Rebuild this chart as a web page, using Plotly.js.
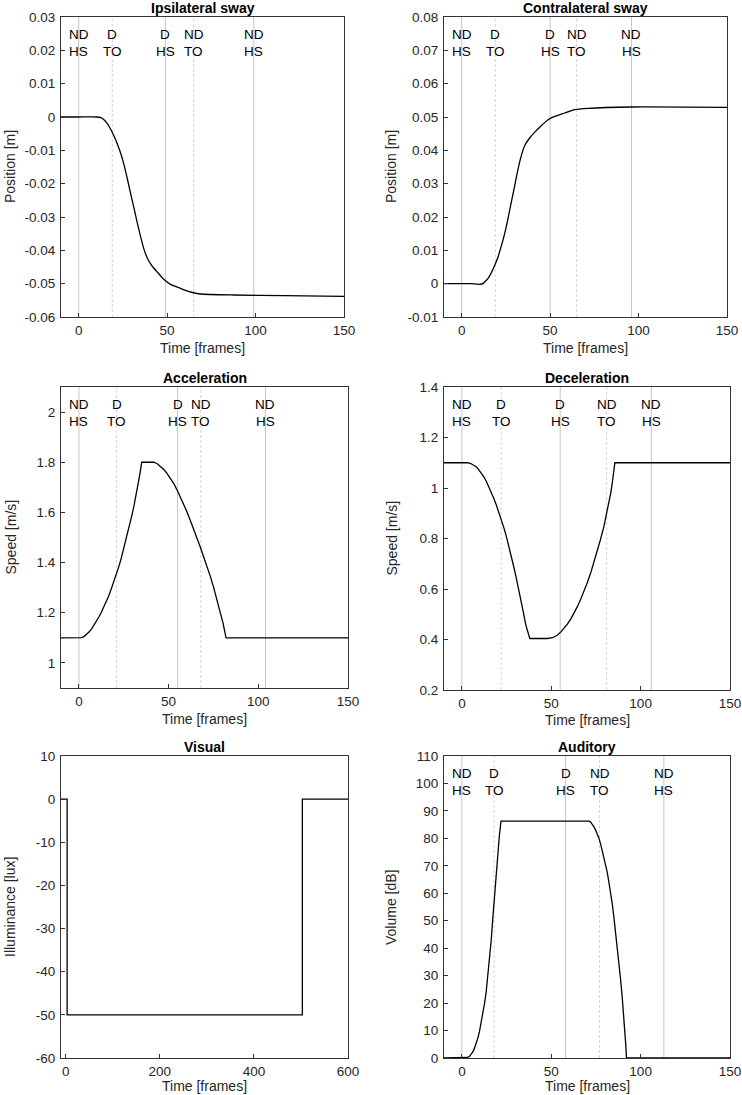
<!DOCTYPE html>
<html>
<head>
<meta charset="utf-8">
<script src="https://cdn.plot.ly/plotly-3.0.1.min.js"></script>
<style>html,body{margin:0;padding:0;background:#fff}</style>
</head>
<body>
<div id="chart" style="width:742px;height:1095px"></div>
<script>
// ---------- DATA ----------
const ipsiX = [-10, 0, 10.5, 12.4, 14.3, 16.2, 18, 19.9, 21.8, 23.7, 25.6, 27.4, 29.3, 31.2, 33.1, 35, 36.8, 38.7, 41.5, 44.4, 48.1, 51.9, 57.5, 63.2, 68.8, 87.6, 115.8, 150];
const ipsiY = [0, 0, 0, -0.0002, -0.0008, -0.002, -0.0036, -0.0056, -0.008, -0.0108, -0.0143, -0.0183, -0.0228, -0.0272, -0.0317, -0.0359, -0.0395, -0.0422, -0.0447, -0.0465, -0.0487, -0.0502, -0.0514, -0.0525, -0.0531, -0.0534, -0.0536, -0.0538];

const contraX = [-10, 0, 5.3, 10, 12, 12.9, 14.8, 16.6, 18.5, 20.4, 22.3, 24.2, 26.1, 28, 29.9, 31.8, 33.7, 35.6, 38.4, 41.2, 45, 48.8, 52.6, 58.3, 63.9, 71.5, 96.1, 150];
const contraY = [0, 0, 0, -0.0002, 0, 0.0005, 0.0015, 0.0031, 0.0053, 0.0078, 0.0111, 0.0148, 0.0193, 0.0243, 0.0292, 0.0342, 0.0384, 0.0414, 0.0437, 0.0454, 0.0474, 0.0492, 0.0502, 0.0512, 0.0522, 0.0526, 0.053, 0.0529];

const accelX = [-10, 0, 1.4, 2.8, 4.2, 5.6, 7, 8.3, 9.7, 11.1, 12.5, 13.9, 15.3, 16.7, 18, 19.4, 20.8, 22.2, 23.6, 25, 26.4, 27.8, 29.2, 30.6, 31.7, 32.8, 33.9, 35, 41.7, 43.5, 45.4, 47.2, 49.1, 51, 52.8, 54.6, 56.5, 58.4, 60.2, 62, 63.9, 65.8, 67.6, 69.4, 71.3, 73.2, 75, 76.8, 78.7, 80.4, 82, 150];
const accelY = [1.1, 1.1, 1.101, 1.105, 1.113, 1.123, 1.135, 1.149, 1.165, 1.183, 1.202, 1.223, 1.245, 1.269, 1.295, 1.323, 1.352, 1.383, 1.418, 1.456, 1.495, 1.536, 1.579, 1.623, 1.662, 1.703, 1.75, 1.8, 1.8, 1.795, 1.785, 1.772, 1.756, 1.737, 1.716, 1.691, 1.663, 1.634, 1.603, 1.57, 1.536, 1.5, 1.463, 1.425, 1.387, 1.346, 1.303, 1.257, 1.209, 1.157, 1.1, 1.1];

const decelX = [-10, 0, 3.3, 5.2, 6.6, 8, 9.4, 10.8, 12.2, 13.6, 15, 16.3, 17.7, 19.1, 20.5, 21.9, 23.3, 24.7, 26.1, 27.5, 28.9, 30.3, 31.7, 33, 34.4, 35.8, 37, 38, 47.9, 49.3, 50.7, 52.1, 53.5, 55.4, 57.2, 59, 60.9, 62.7, 64.6, 66.4, 68.3, 70.1, 72, 73.8, 75.7, 77.5, 79.4, 80.8, 82.2, 83.2, 84.1, 84.9, 85.6, 150];
const decelY = [1.1, 1.1, 1.1, 1.096, 1.091, 1.084, 1.073, 1.06, 1.045, 1.028, 1.007, 0.985, 0.961, 0.936, 0.908, 0.879, 0.847, 0.813, 0.775, 0.734, 0.692, 0.648, 0.603, 0.556, 0.507, 0.457, 0.428, 0.404, 0.404, 0.405, 0.407, 0.412, 0.418, 0.43, 0.444, 0.461, 0.481, 0.504, 0.53, 0.558, 0.589, 0.624, 0.662, 0.703, 0.747, 0.795, 0.846, 0.891, 0.938, 0.977, 1.018, 1.058, 1.1, 1.1];

const visualX = [-10, 3, 3, 503, 503, 600];
const visualY = [0, 0, -50, -50, 0, 0];

const audX = [-10, 0, 2.4, 3.3, 4.3, 5.2, 6.1, 7, 8, 8.9, 9.8, 10.7, 11.7, 12.6, 13.6, 14.5, 15.4, 16.4, 17.3, 18.2, 19.1, 20, 21, 21.9, 71.1, 72, 73, 73.9, 74.8, 75.8, 76.7, 77.6, 78.5, 79.5, 80.4, 81.3, 82.2, 83.2, 84.1, 85, 85.9, 86.9, 87.8, 88.7, 89.7, 90.4, 91, 91.6, 92.1, 150];
const audY = [0, 0, 0, 0.2, 0.6, 1.3, 2.2, 3.5, 5.2, 7.2, 9.5, 12.4, 15.6, 19.6, 24.1, 29.6, 35.6, 42.9, 50.8, 58.6, 66.6, 74.1, 81.2, 86.3, 86.3, 86, 85.2, 84.2, 83, 81.6, 80, 78, 75.7, 73.4, 70.9, 67.7, 64.2, 60.4, 56.3, 51.6, 46.6, 41.2, 35.6, 29.2, 22.2, 16.8, 11.3, 5.6, 0, 0];

// gait event labels and frames per panel
const eventTop = ["ND", "D", "D", "ND", "ND"];
const eventBottom = ["HS", "TO", "HS", "TO", "HS"];
const ipsiEvents = [0, 19, 49, 65, 99];
const contraEvents = [0, 19, 50, 65, 96];
const accelEvents = [0, 21, 55, 68, 104];
const decelEvents = [0, 22, 55, 81, 106];
const audEvents = [0, 18, 58, 77, 113];

const panelTitles = ["Ipsilateral sway", "Contralateral sway", "Acceleration", "Deceleration", "Visual", "Auditory"];
const yTitles = ["Position [m]", "Position [m]", "Speed [m/s]", "Speed [m/s]", "Illuminance [lux]", "Volume [dB]"];
const xTitle = "Time [frames]";

const ipsiTicks = [-0.06, -0.05, -0.04, -0.03, -0.02, -0.01, 0, 0.01, 0.02, 0.03];
const ipsiTickText = ["-0.06", "-0.05", "-0.04", "-0.03", "-0.02", "-0.01", "0", "0.01", "0.02", "0.03"];
const contraTicks = [-0.01, 0, 0.01, 0.02, 0.03, 0.04, 0.05, 0.06, 0.07, 0.08];
const contraTickText = ["-0.01", "0", "0.01", "0.02", "0.03", "0.04", "0.05", "0.06", "0.07", "0.08"];
const accelTicks = [1, 1.2, 1.4, 1.6, 1.8, 2];
const accelTickText = ["1", "1.2", "1.4", "1.6", "1.8", "2"];
const decelTicks = [0.2, 0.4, 0.6, 0.8, 1, 1.2, 1.4];
const decelTickText = ["0.2", "0.4", "0.6", "0.8", "1", "1.2", "1.4"];
const visualTicks = [-60, -50, -40, -30, -20, -10, 0, 10];
const visualTickText = ["-60", "-50", "-40", "-30", "-20", "-10", "0", "10"];
const audTicks = [0, 10, 20, 30, 40, 50, 60, 70, 80, 90, 100, 110];
const audTickText = ["0", "10", "20", "30", "40", "50", "60", "70", "80", "90", "100", "110"];
const frameTicks = [0, 50, 100, 150];
const visualFrameTicks = [0, 200, 400, 600];

// ---------- LAYOUT ----------
const W = 742, H = 1095;
const FONT = "Liberation Sans, Arial, Helvetica, sans-serif";
const TXT = "#262626";

const panels = [
  {x: ipsiX, y: ipsiY, ev: ipsiEvents, smooth: true, xr: [-10, 150], yr: [-0.06, 0.03], yt: ipsiTicks, ytt: ipsiTickText, xt: frameTicks, px: [61, 344], py: [17, 317], tx: 10, xs: -31},
  {x: contraX, y: contraY, ev: contraEvents, smooth: true, xr: [-10, 150], yr: [-0.01, 0.08], yt: contraTicks, ytt: contraTickText, xt: frameTicks, px: [444, 727], py: [17, 317], tx: 391, xs: -31},
  {x: accelX, y: accelY, ev: accelEvents, smooth: false, xr: [-10, 150], yr: [0.9, 2.1], yt: accelTicks, ytt: accelTickText, xt: frameTicks, px: [61, 348], py: [387, 688], tx: 10, xs: -31},
  {x: decelX, y: decelY, ev: decelEvents, smooth: false, xr: [-10, 150], yr: [0.2, 1.4], yt: decelTicks, ytt: decelTickText, xt: frameTicks, px: [444, 730], py: [387, 690], tx: 391, xs: -30},
  {x: visualX, y: visualY, ev: null, smooth: false, xr: [-10, 600], yr: [-60, 10], yt: visualTicks, ytt: visualTickText, xt: visualFrameTicks, px: [61, 348], py: [756, 1058], tx: 10, xs: -28},
  {x: audX, y: audY, ev: audEvents, smooth: false, xr: [-10, 150], yr: [0, 110], yt: audTicks, ytt: audTickText, xt: frameTicks, px: [444, 730], py: [756, 1058], tx: 391, xs: -28}
];

const traces = [];
const shapes = [];
const annotations = [];
const layout = {
  width: W, height: H,
  margin: {l: 0, r: 0, t: 0, b: 0},
  paper_bgcolor: "#fff", plot_bgcolor: "#fff",
  showlegend: false,
  font: {family: FONT, size: 13, color: TXT}
};

panels.forEach((p, i) => {
  const n = i + 1;
  const xa = "x" + (n === 1 ? "" : n);
  const ya = "y" + (n === 1 ? "" : n);
  const xk = "xaxis" + (n === 1 ? "" : n);
  const yk = "yaxis" + (n === 1 ? "" : n);
  const axCommon = {
    showgrid: false, zeroline: false, showline: true, mirror: true,
    linecolor: "#333", linewidth: 1,
    ticks: "inside", ticklen: 4, tickcolor: "#333", tickwidth: 1,
    tickfont: {family: FONT, size: 13.5, color: TXT},
    fixedrange: true, automargin: false
  };
  layout[xk] = Object.assign({}, axCommon, {
    domain: [p.px[0] / W, p.px[1] / W],
    anchor: ya, range: p.xr, tickmode: "array", tickvals: p.xt, ticklabelstandoff: 1
  });
  layout[yk] = Object.assign({}, axCommon, {
    domain: [1 - p.py[1] / H, 1 - p.py[0] / H],
    anchor: xa, range: p.yr, tickmode: "array", tickvals: p.yt, ticktext: p.ytt, ticklabelstandoff: 2
  });

  if (p.ev) {
    p.ev.forEach((e, k) => {
      const isTO = eventBottom[k] === "TO";
      shapes.push({
        type: "line", xref: xa, yref: ya + " domain", x0: e, x1: e, y0: 0, y1: 1,
        layer: "below",
        line: {color: isTO ? "#d4d4d4" : "#c6c6c6", width: 1, dash: isTO ? "3px,2px" : "solid"}
      });
      annotations.push({xref: xa, yref: ya + " domain", x: e, y: 1, yshift: -17, yanchor: "middle", xanchor: "center",
        text: eventTop[k], showarrow: false, font: {family: FONT, size: 13.5, color: "#000"}});
      annotations.push({xref: xa, yref: ya + " domain", x: e, y: 1, yshift: -34, yanchor: "middle", xanchor: "center",
        text: eventBottom[k], showarrow: false, font: {family: FONT, size: 13.5, color: "#000"}});
    });
  }

  // panel title
  annotations.push({xref: xa + " domain", yref: ya + " domain", x: 0.5, y: 1, yshift: -1, yanchor: "bottom", xanchor: "center",
    text: "<b>" + panelTitles[i] + "</b>", showarrow: false, font: {family: FONT, size: 14, color: "#000"}});
  // x axis title
  annotations.push({xref: xa + " domain", yref: ya + " domain", x: 0.5, y: 0, yshift: p.xs, yanchor: "middle", xanchor: "center",
    text: xTitle, showarrow: false, font: {family: FONT, size: 14, color: TXT}});
  // y axis title
  annotations.push({xref: "paper", yref: ya + " domain", x: p.tx / W, y: 0.5, yanchor: "middle", xanchor: "center",
    textangle: -90, text: yTitles[i], showarrow: false, font: {family: FONT, size: 14, color: TXT}});

  traces.push({
    type: "scatter", mode: "lines", x: p.x, y: p.y, xaxis: xa, yaxis: ya,
    line: p.smooth ? {color: "#000", width: 1.3, shape: "spline", smoothing: 0.5} : {color: "#000", width: 1.3},
    hoverinfo: "skip"
  });
});

layout.shapes = shapes;
layout.annotations = annotations;

Plotly.newPlot("chart", traces, layout, {staticPlot: true, displayModeBar: false});
</script>
</body>
</html>
